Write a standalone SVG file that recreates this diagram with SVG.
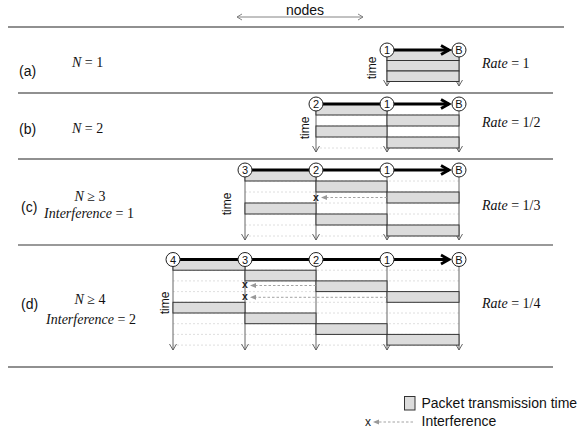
<svg xmlns="http://www.w3.org/2000/svg" width="582" height="431" viewBox="0 0 582 431">
<style>
.sans{font-family:"Liberation Sans",Arial,sans-serif;fill:#111}
.lbl{font-size:14px}
.serif{font-family:"Liberation Serif","Times New Roman",serif;font-size:14px;fill:#111}
.it{font-style:italic}
.sep{stroke:#222;stroke-width:1.2;fill:none}
.vl{stroke:#555;stroke-width:0.9;fill:none}
.va{stroke:#555;stroke-width:0.9;fill:none}
.pk{fill:#dcdcdc;stroke:#333;stroke-width:1}
.dot{stroke:#d6d6d6;stroke-width:0.8;stroke-dasharray:2 2;fill:none}
.thick{stroke:#000;stroke-width:2.8;fill:none}
.chev{stroke:#000;stroke-width:2.8;fill:none;stroke-linejoin:miter}
.nd{fill:#fff;stroke:#222;stroke-width:1}
.nt{font-family:"Liberation Sans",Arial,sans-serif;font-size:11px;text-anchor:middle;fill:#111}
.time{font-family:"Liberation Sans",Arial,sans-serif;font-size:12px;text-anchor:middle;fill:#111}
.ia{stroke:#999;stroke-width:0.9;stroke-dasharray:2.5 2;fill:none}
.ih{fill:#999;stroke:none}
.x{font-family:"Liberation Sans",Arial,sans-serif;font-size:10.5px;font-weight:bold;text-anchor:middle;fill:#222}
.xl{font-family:"Liberation Sans",Arial,sans-serif;font-size:12px;text-anchor:middle;fill:#222}
</style>

<!-- header -->
<g id="header">
  <text class="sans lbl" x="305" y="14.5" text-anchor="middle">nodes</text>
  <line x1="237" y1="17" x2="363" y2="17" stroke="#777" stroke-width="0.9"/>
  <polyline points="242,14 237,17 242,20" stroke="#777" stroke-width="0.9" fill="none"/>
  <polyline points="358,14 363,17 358,20" stroke="#777" stroke-width="0.9" fill="none"/>
</g>

<!-- separators -->
<g id="separators">
  <line class="sep" x1="8" y1="27" x2="564" y2="27"/>
  <line class="sep" x1="18" y1="93" x2="553" y2="93"/>
  <line class="sep" x1="18" y1="159" x2="553" y2="159"/>
  <line x1="18" y1="245" x2="553" y2="245" stroke="#777" stroke-width="1.6"/>
  <line class="sep" x1="8" y1="367" x2="553" y2="367"/>
</g>

<!-- Panel (a) -->
<g id="panel-a">
  <text class="sans lbl" x="19" y="76">(a)</text>
  <text class="serif" x="72" y="67"><tspan class="it">N</tspan> = 1</text>
  <text class="serif" x="482" y="68"><tspan class="it">Rate</tspan> = 1</text>
  <text class="time" transform="translate(376,68) rotate(-90)">time</text>
  <g id="a-connectors">
    <line class="vl" x1="387" y1="57" x2="387" y2="86"/>
    <line class="vl" x1="459" y1="57" x2="459" y2="86"/>
    <polyline class="va" points="383.5,80 387,86 390.5,80"/>
    <polyline class="va" points="455.5,80 459,86 462.5,80"/>
    <rect class="pk" x="387" y="50" width="72" height="10.5"/>
    <rect class="pk" x="387" y="60.5" width="72" height="10.5"/>
    <rect class="pk" x="387" y="71" width="72" height="10.5"/>
    <line class="thick" x1="394" y1="50" x2="449" y2="50"/>
    <polyline class="chev" points="441,45.5 449,50 441,54.5"/>
  </g>
  <g id="a-node1"><circle class="nd" cx="387" cy="50" r="7"/><text class="nt" x="387" y="54">1</text></g>
  <g id="a-nodeB"><circle class="nd" cx="459" cy="50" r="7"/><text class="nt" x="459" y="54">B</text></g>
</g>

<!-- Panel (b) -->
<g id="panel-b">
  <text class="sans lbl" x="19" y="134">(b)</text>
  <text class="serif" x="72" y="133"><tspan class="it">N</tspan> = 2</text>
  <text class="serif" x="482" y="127"><tspan class="it">Rate</tspan> = 1/2</text>
  <text class="time" transform="translate(309,128) rotate(-90)">time</text>
  <g id="b-connectors">
    <line class="dot" x1="316" y1="115" x2="459" y2="115"/>
    <line class="dot" x1="316" y1="126" x2="459" y2="126"/>
    <line class="dot" x1="316" y1="137" x2="459" y2="137"/>
    <line class="dot" x1="316" y1="148" x2="459" y2="148"/>
    <line class="vl" x1="316" y1="110" x2="316" y2="152"/>
    <line class="vl" x1="387" y1="110" x2="387" y2="152"/>
    <line class="vl" x1="459" y1="110" x2="459" y2="152"/>
    <polyline class="va" points="312.5,146 316,152 319.5,146"/>
    <polyline class="va" points="383.5,146 387,152 390.5,146"/>
    <polyline class="va" points="455.5,146 459,152 462.5,146"/>
    <rect class="pk" x="316" y="104" width="71" height="11"/>
    <rect class="pk" x="387" y="115" width="72" height="11"/>
    <rect class="pk" x="316" y="126" width="71" height="11"/>
    <rect class="pk" x="387" y="137" width="72" height="11"/>
    <line class="thick" x1="323" y1="104" x2="449" y2="104"/>
    <polyline class="chev" points="441,99.5 449,104 441,108.5"/>
  </g>
  <g id="b-node2"><circle class="nd" cx="316" cy="104" r="7"/><text class="nt" x="316" y="108">2</text></g>
  <g id="b-node1"><circle class="nd" cx="387" cy="104" r="7"/><text class="nt" x="387" y="108">1</text></g>
  <g id="b-nodeB"><circle class="nd" cx="459" cy="104" r="7"/><text class="nt" x="459" y="108">B</text></g>
</g>

<!-- Panel (c) -->
<g id="panel-c">
  <text class="sans lbl" x="21" y="212">(c)</text>
  <text class="serif" x="90" y="201" text-anchor="middle"><tspan class="it">N</tspan> ≥ 3</text>
  <text class="serif" x="89" y="218" text-anchor="middle"><tspan class="it">Interference</tspan> = 1</text>
  <text class="serif" x="482" y="210"><tspan class="it">Rate</tspan> = 1/3</text>
  <text class="time" transform="translate(231,204) rotate(-90)">time</text>
  <g id="c-connectors">
    <line class="dot" x1="245" y1="181" x2="459" y2="181"/>
    <line class="dot" x1="245" y1="192" x2="459" y2="192"/>
    <line class="dot" x1="245" y1="203" x2="459" y2="203"/>
    <line class="dot" x1="245" y1="214" x2="459" y2="214"/>
    <line class="dot" x1="245" y1="225" x2="459" y2="225"/>
    <line class="dot" x1="245" y1="236" x2="459" y2="236"/>
    <line class="vl" x1="245" y1="176" x2="245" y2="240"/>
    <line class="vl" x1="316" y1="176" x2="316" y2="240"/>
    <line class="vl" x1="387" y1="176" x2="387" y2="240"/>
    <line class="vl" x1="459" y1="176" x2="459" y2="240"/>
    <polyline class="va" points="241.5,234 245,240 248.5,234"/>
    <polyline class="va" points="312.5,234 316,240 319.5,234"/>
    <polyline class="va" points="383.5,234 387,240 390.5,234"/>
    <polyline class="va" points="455.5,234 459,240 462.5,234"/>
    <rect class="pk" x="245" y="170" width="71" height="11"/>
    <rect class="pk" x="316" y="181" width="71" height="11"/>
    <rect class="pk" x="387" y="192" width="72" height="11"/>
    <rect class="pk" x="245" y="203" width="71" height="11"/>
    <rect class="pk" x="316" y="214" width="71" height="11"/>
    <rect class="pk" x="387" y="225" width="72" height="11"/>
    <line class="ia" x1="387" y1="197.5" x2="326" y2="197.5"/>
    <polygon class="ih" points="321,197.5 327,195 327,200"/>
    <text class="x" x="316" y="200.5">x</text>
    <line class="thick" x1="252" y1="170" x2="449" y2="170"/>
    <polyline class="chev" points="441,165.5 449,170 441,174.5"/>
  </g>
  <g id="c-node3"><circle class="nd" cx="245" cy="170" r="7"/><text class="nt" x="245" y="174">3</text></g>
  <g id="c-node2"><circle class="nd" cx="316" cy="170" r="7"/><text class="nt" x="316" y="174">2</text></g>
  <g id="c-node1"><circle class="nd" cx="387" cy="170" r="7"/><text class="nt" x="387" y="174">1</text></g>
  <g id="c-nodeB"><circle class="nd" cx="459" cy="170" r="7"/><text class="nt" x="459" y="174">B</text></g>
</g>

<!-- Panel (d) -->
<g id="panel-d">
  <text class="sans lbl" x="21" y="309">(d)</text>
  <text class="serif" x="90" y="304" text-anchor="middle"><tspan class="it">N</tspan> ≥ 4</text>
  <text class="serif" x="91" y="324" text-anchor="middle"><tspan class="it">Interference</tspan> = 2</text>
  <text class="serif" x="482" y="308"><tspan class="it">Rate</tspan> = 1/4</text>
  <text class="time" transform="translate(169,303) rotate(-90)">time</text>
  <g id="d-connectors">
    <line class="dot" x1="173" y1="270.2" x2="459" y2="270.2"/>
    <line class="dot" x1="173" y1="280.9" x2="459" y2="280.9"/>
    <line class="dot" x1="173" y1="291.6" x2="459" y2="291.6"/>
    <line class="dot" x1="173" y1="302.3" x2="459" y2="302.3"/>
    <line class="dot" x1="173" y1="313" x2="459" y2="313"/>
    <line class="dot" x1="173" y1="323.7" x2="459" y2="323.7"/>
    <line class="dot" x1="173" y1="334.4" x2="459" y2="334.4"/>
    <line class="dot" x1="173" y1="345.1" x2="459" y2="345.1"/>
    <line class="vl" x1="173" y1="265" x2="173" y2="350"/>
    <line class="vl" x1="245" y1="265" x2="245" y2="350"/>
    <line class="vl" x1="316" y1="265" x2="316" y2="350"/>
    <line class="vl" x1="387" y1="265" x2="387" y2="350"/>
    <line class="vl" x1="459" y1="265" x2="459" y2="350"/>
    <polyline class="va" points="169.5,344 173,350 176.5,344"/>
    <polyline class="va" points="241.5,344 245,350 248.5,344"/>
    <polyline class="va" points="312.5,344 316,350 319.5,344"/>
    <polyline class="va" points="383.5,344 387,350 390.5,344"/>
    <polyline class="va" points="455.5,344 459,350 462.5,344"/>
    <rect class="pk" x="173" y="259.5" width="72" height="10.7"/>
    <rect class="pk" x="245" y="270.2" width="71" height="10.7"/>
    <rect class="pk" x="316" y="280.9" width="71" height="10.7"/>
    <rect class="pk" x="387" y="291.6" width="72" height="10.7"/>
    <rect class="pk" x="173" y="302.3" width="72" height="10.7"/>
    <rect class="pk" x="245" y="313" width="71" height="10.7"/>
    <rect class="pk" x="316" y="323.7" width="71" height="10.7"/>
    <rect class="pk" x="387" y="334.4" width="72" height="10.7"/>
    <line class="ia" x1="316" y1="285.5" x2="255" y2="285.5"/>
    <polygon class="ih" points="250,285.5 256,283 256,288"/>
    <line class="ia" x1="387" y1="297.3" x2="255" y2="297.3"/>
    <polygon class="ih" points="250,297.3 256,294.8 256,299.8"/>
    <text class="x" x="245" y="288.3">x</text>
    <text class="x" x="245" y="300.3">x</text>
    <line class="thick" x1="180" y1="259.5" x2="449" y2="259.5"/>
    <polyline class="chev" points="441,255 449,259.5 441,264"/>
  </g>
  <g id="d-node4"><circle class="nd" cx="173" cy="259.5" r="7"/><text class="nt" x="173" y="263.5">4</text></g>
  <g id="d-node3"><circle class="nd" cx="245" cy="259.5" r="7"/><text class="nt" x="245" y="263.5">3</text></g>
  <g id="d-node2"><circle class="nd" cx="316" cy="259.5" r="7"/><text class="nt" x="316" y="263.5">2</text></g>
  <g id="d-node1"><circle class="nd" cx="387" cy="259.5" r="7"/><text class="nt" x="387" y="263.5">1</text></g>
  <g id="d-nodeB"><circle class="nd" cx="459" cy="259.5" r="7"/><text class="nt" x="459" y="263.5">B</text></g>
</g>

<!-- Legend -->
<g id="legend">
  <rect class="pk" x="404.5" y="396.5" width="10.5" height="13.5"/>
  <text class="sans lbl" x="421.5" y="408">Packet transmission time</text>
  <text class="xl" x="368" y="426">x</text>
  <polygon class="ih" points="373,422 379,419.5 379,424.5"/>
  <line class="ia" x1="379" y1="422" x2="413" y2="422" stroke-dasharray="1.5 1.5"/>
  <text class="sans lbl" x="421.5" y="426">Interference</text>
</g>
</svg>
